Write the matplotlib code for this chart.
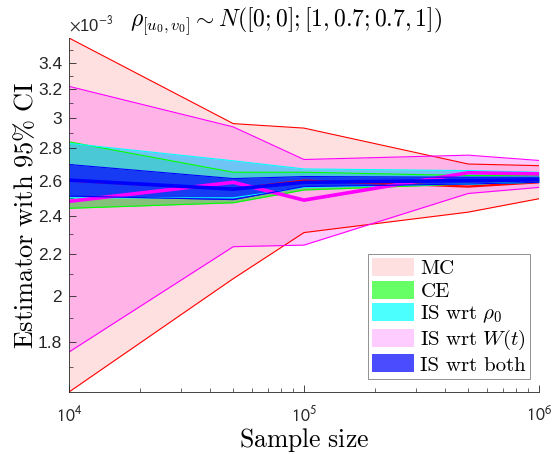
import numpy as np
import matplotlib
matplotlib.use('Agg')
import matplotlib.pyplot as plt
from matplotlib.patches import Patch
from matplotlib.ticker import FixedLocator, FixedFormatter, LogLocator, NullFormatter

plt.rcParams.update({
    'font.family': ['Liberation Sans', 'DejaVu Sans'],
    'mathtext.fontset': 'stixsans',
    'axes.linewidth': 0.6,
    'axes.edgecolor': '#262626',
    'xtick.color': '#262626',
    'ytick.color': '#262626',
})

# ── Data (values in units of 1e-3) ─────────────────────────────────────────
sample_size = [1e4, 5e4, 1e5, 5e5, 1e6]

mc_lo = [1.607, 2.08, 2.31, 2.42, 2.495]
mc_est = [2.60, 2.55, 2.60, 2.565, 2.59]
mc_hi = [3.597, 2.96, 2.93, 2.70, 2.69]

ce_lo = [2.441, 2.472, 2.545, 2.58, 2.59]
ce_hi = [2.84, 2.65, 2.65, 2.63, 2.63]

rho_lo = [2.50, 2.50, 2.56, 2.58, 2.59]
rho_hi = [2.83, 2.72, 2.67, 2.66, 2.65]

wt_lo = [1.76, 2.237, 2.245, 2.525, 2.56]
wt_est = [2.48, 2.59, 2.487, 2.647, 2.64]
wt_hi = [3.222, 2.938, 2.728, 2.755, 2.722]

both_lo = [2.51, 2.49, 2.565, 2.58, 2.59]
both_est = [2.603, 2.55, 2.59, 2.60, 2.605]
both_hi = [2.697, 2.612, 2.624, 2.62, 2.62]

ytick_vals = [1.8, 2.0, 2.2, 2.4, 2.6, 2.8, 3.0, 3.2, 3.4]
ytick_labels = ['1.8', '2', '2.2', '2.4', '2.6', '2.8', '3', '3.2', '3.4']

# (label, colour, face alpha, lower, estimate, upper, estimate width)
methods = [
    ('MC', (1, 0, 0), 0.12, mc_lo, mc_est, mc_hi, 1.6),
    ('CE', (0, 1, 0), 0.6, ce_lo, None, ce_hi, 0),
    (r'$\mathrm{IS\ wrt}\ \rho_0$', (0, 1, 1), 0.7, rho_lo, None, rho_hi, 0),
    (r'$\mathrm{IS\ wrt}\ W(t)$', (1, 0, 1), 0.2, wt_lo, wt_est, wt_hi, 2.6),
    ('IS wrt both', (0, 0, 1), 0.7, both_lo, both_est, both_hi, 2.6),
]

S = 1e-3
fig = plt.figure(figsize=(5.53, 4.54), dpi=100)
ax = fig.add_axes([69 / 553, 1 - 392 / 454, 470 / 553, 354 / 454])

x = np.array(sample_size)
handles = []
for name, color, alpha, lo, est, hi, elw in methods:
    lo = np.array(lo) * S
    hi = np.array(hi) * S
    ax.fill_between(x, lo, hi, color=color, alpha=alpha, lw=0)
    ax.plot(x, lo, color=color, lw=0.8)
    ax.plot(x, hi, color=color, lw=0.8)
    if est is not None:
        ax.plot(x, np.array(est) * S, color=color, lw=elw)
    handles.append(Patch(facecolor=color, alpha=alpha, edgecolor='none', label=name))

ax.set_xscale('log')
ax.set_yscale('log')
ax.set_xlim(1e4, 1e6)
ax.set_ylim(1.607e-3, 3.597e-3)

ax.yaxis.set_major_locator(FixedLocator([v * S for v in ytick_vals]))
ax.yaxis.set_major_formatter(FixedFormatter(ytick_labels))
ax.yaxis.set_minor_locator(FixedLocator([v / 10 * S for v in range(16, 37)]))
ax.yaxis.set_minor_formatter(NullFormatter())

ax.xaxis.set_major_locator(FixedLocator([1e4, 1e5, 1e6]))
ax.xaxis.set_major_formatter(FixedFormatter([r'$10^4$', r'$10^5$', r'$10^6$']))
ax.xaxis.set_minor_locator(LogLocator(base=10, subs=np.arange(2, 10), numticks=20))
ax.xaxis.set_minor_formatter(NullFormatter())

ax.tick_params(which='both', direction='in')
ax.tick_params(axis='y', labelsize=12.5, pad=5)
ax.tick_params(axis='x', labelsize=13, pad=10)
ax.tick_params(which='major', length=5, width=0.6)
ax.tick_params(which='minor', length=3, width=0.5)
for sp in ('top', 'right'):
    ax.spines[sp].set_visible(False)

ax.text(0.0, 1.01, r'$\times$10$^{-3}$', transform=ax.transAxes, fontsize=12,
        ha='left', va='bottom', color='#262626')

fig.text(286 / 553, 1 - 22 / 454,
         r'$\rho_{[u_0,v_0]} \sim N([0;0];[1,0.7;0.7,1])$',
         ha='center', va='center', fontsize=17, math_fontfamily='cm')
fig.text(304 / 553, 1 - 440 / 454, r'$\mathrm{Sample\ size}$',
         ha='center', va='center', fontsize=18.5, math_fontfamily='cm')
fig.text(25 / 553, 1 - 215 / 454, r'$\mathrm{Estimator\ with\ 95\%\ CI}$',
         ha='center', va='center', rotation=90, fontsize=19, math_fontfamily='cm')

leg = ax.legend(handles=handles, loc='lower right', bbox_to_anchor=(0.995, 0.02),
                fontsize=15, frameon=True, fancybox=False, edgecolor='#808080',
                framealpha=1, borderpad=0.2, labelspacing=0.12,
                handlelength=2.0, handleheight=0.95, handletextpad=0.3,
                borderaxespad=0.3)
leg.get_frame().set_linewidth(0.6)
for t in leg.get_texts():
    t.set_math_fontfamily('cm')
    t.set_fontfamily('cmr10')

fig.savefig('out.png', dpi=100)
